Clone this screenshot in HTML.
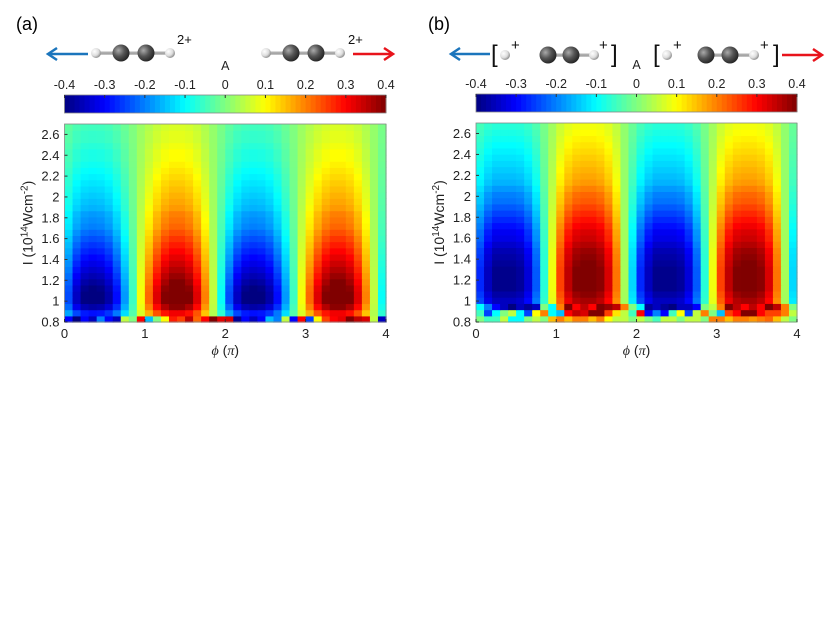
<!DOCTYPE html>
<html><head><meta charset="utf-8"><style>
body{margin:0;background:#fff;}
svg{display:block;font-family:"Liberation Sans",sans-serif;}
</style></head><body>
<svg id="fig" width="830" height="623" viewBox="0 0 830 623">
<defs>
<radialGradient id="gC" cx="0.35" cy="0.35" r="0.7"><stop offset="0" stop-color="#aaa"/><stop offset="0.5" stop-color="#555"/><stop offset="1" stop-color="#222"/></radialGradient>
<radialGradient id="gH" cx="0.35" cy="0.35" r="0.7"><stop offset="0" stop-color="#fff"/><stop offset="0.6" stop-color="#ddd"/><stop offset="1" stop-color="#888"/></radialGradient>
<linearGradient id="gB" x1="0" y1="0" x2="0" y2="1"><stop offset="0" stop-color="#eee"/><stop offset="0.5" stop-color="#999"/><stop offset="1" stop-color="#ccc"/></linearGradient>
</defs>
<text x="16" y="30" font-size="18">(a)</text>
<text x="428" y="30" font-size="18">(b)</text>
<g id="deco"></g>
<g id="pa"></g><g id="pb"></g>
</svg>
<script>
// ---- data ----
const phiTicks=[0,1,2,3,4];
const iTicks=[0.8,1,1.2,1.4,1.6,1.8,2,2.2,2.4,2.6];
const cbTicks=[-0.4,-0.3,-0.2,-0.1,0,0.1,0.2,0.3,0.4];
const cbLabels=["-0.4","-0.3","-0.2","-0.1","0","0.1","0.2","0.3","0.4"];
// column phase profile (40 columns over 0..4 pi)
const profileA=[-0.6,-0.85,-0.97,-1,-0.98,-0.9,-0.72,-0.45,-0.15,0.2,0.5,0.75,0.92,1,1,0.93,0.75,0.45,0.1,-0.25,
 -0.6,-0.85,-0.97,-1,-0.98,-0.9,-0.72,-0.45,-0.15,0.2,0.5,0.75,0.92,1,1,0.93,0.75,0.45,0.1,-0.25];
const ampA=[0.30,0.38,0.42,0.42,0.41,0.39,0.37,0.35,0.33,0.31,0.29,0.27,0.25,0.23,0.21,0.20,0.19,0.17,0.16,0.15,0.14,0.13,0.12,0.11,0.10,0.09,0.09,0.08,0.07,0.07,0.06];
const bottomA=[-0.3,-0.4,-0.3,-0.35,-0.2,-0.3,-0.35,0.05,0.0,0.3,-0.15,0.0,0.1,0.28,0.25,0.35,0.22,0.3,0.4,0.32,
 0.33,-0.38,-0.3,-0.35,-0.3,-0.15,-0.2,0.05,-0.3,0.3,-0.25,0.1,0.25,0.3,0.32,0.4,0.35,0.33,0.05,-0.35];
const profileB=[-0.7,-0.9,-1,-1,-1,-0.97,-0.85,-0.6,-0.2,0.2,0.6,0.85,0.97,1,1,0.95,0.8,0.5,0.05,-0.35,
 -0.7,-0.9,-1,-1,-1,-0.97,-0.85,-0.6,-0.2,0.2,0.6,0.85,0.97,1,1,0.95,0.8,0.5,0.05,-0.35];
const ampB=[0.36,0.38,0.40,0.40,0.40,0.40,0.39,0.38,0.37,0.35,0.33,0.32,0.30,0.28,0.26,0.24,0.22,0.21,0.19,0.17,0.16,0.15,0.14,0.13,0.12,0.11,0.10,0.09,0.08];
const bottomB1=[-0.1,-0.2,-0.3,-0.35,-0.4,-0.35,-0.38,-0.35,0.0,-0.1,0.2,0.45,0.3,0.35,0.3,0.42,0.38,0.35,0.2,0.0,
 -0.1,-0.38,-0.35,-0.38,-0.4,-0.35,-0.35,-0.3,0.0,0.05,0.2,0.45,0.35,0.3,0.35,0.3,0.45,0.35,0.2,0.0];
const bottomB2=[-0.05,-0.25,-0.1,0.0,0.05,-0.1,-0.25,0.1,0.2,-0.1,-0.15,0.3,0.35,0.33,0.4,0.4,0.25,0.12,0.05,-0.05,
 0.3,-0.3,-0.2,-0.3,-0.05,0.1,-0.25,0.05,0.2,0.0,-0.15,0.25,0.3,0.4,0.45,0.3,0.25,0.25,0.2,0.05];
const bottomB3=[0.0,-0.05,-0.05,0.05,-0.1,-0.1,0.0,0.05,0.0,0.15,0.2,0.15,0.2,0.2,0.15,0.2,0.1,0.05,0.05,0.0,
 0.05,0.0,-0.05,0.05,0.05,0.0,0.05,0.05,0.0,0.2,0.2,0.15,0.2,0.2,0.18,0.2,0.22,0.15,0.05,0.0];

function jet(v){
 let t=Math.max(0,Math.min(1,(v+0.4)/0.8));
 const r=Math.max(0,Math.min(1,1.5-Math.abs(4*t-3)));
 const g=Math.max(0,Math.min(1,1.5-Math.abs(4*t-2)));
 const b=Math.max(0,Math.min(1,1.5-Math.abs(4*t-1)));
 return `rgb(${Math.round(r*255)},${Math.round(g*255)},${Math.round(b*255)})`;
}
const NS="http://www.w3.org/2000/svg";
function mk(tag,attrs,parent){const e=document.createElementNS(NS,tag);for(const k in attrs)e.setAttribute(k,attrs[k]);parent.appendChild(e);return e;}

function panel(g,x0,x1,yT,yB,rows,cbY){
 const xs=p=>x0+(p/4)*(x1-x0);
 const ys=I=>yB-(I-0.8)/(2.7-0.8)*(yB-yT);
 const nC=40, nR=rows.length;
 const rowH=(yB-yT)/nR, colW=(x1-x0)/nC;
 rows.forEach((row,i)=>{
  row.forEach((v,j)=>{
   const r=mk('rect',{x:xs(j*4/nC),y:ys(0.8+(i+1)*1.9/nR),width:colW+0.6,height:rowH+0.6,fill:jet(v)},g);
   
   
  });
 });
 const fr=mk('rect',{x:x0,y:yT,width:x1-x0,height:yB-yT,fill:'none',stroke:'#888','stroke-width':0.8},g);
 
 
 phiTicks.forEach(p=>{
  mk('line',{x1:xs(p),x2:xs(p),y1:yB,y2:yB-3,stroke:'#333'},g);
  const t=mk('text',{x:xs(p),y:yB+16,'font-size':13,'text-anchor':'middle',fill:'#222'},g);
  t.textContent=p;
  
  
 });
 iTicks.forEach(I=>{
  mk('line',{x1:x0,x2:x0+3,y1:ys(I),y2:ys(I),stroke:'#333'},g);
  const t=mk('text',{x:x0-5,y:ys(I)+4.5,'font-size':13,'text-anchor':'end',fill:'#222'},g);
  t.textContent=String(I);
  
  
 });
 const xl=mk('text',{x:(x0+x1)/2,y:yB+33,'font-size':14,'text-anchor':'middle',fill:'#222'},g);
 xl.innerHTML='<tspan font-style="italic" font-family="Liberation Serif">ϕ</tspan> (<tspan font-style="italic" font-family="Liberation Serif">π</tspan>)';
 
 
 const yl=mk('text',{x:0,y:0,'font-size':14,'text-anchor':'middle',fill:'#222',transform:`translate(${x0-32},${(yT+yB)/2}) rotate(-90)`},g);
 yl.innerHTML='I (10<tspan dy="-5" font-size="10">14</tspan><tspan dy="5">Wcm</tspan><tspan dy="-5" font-size="10">-2</tspan><tspan dy="5">)</tspan>';
 
 
 const cbH=18;
 for(let k=0;k<64;k++){
  const v=-0.4+0.8*(k+0.5)/64;
  const r=mk('rect',{x:x0+k*(x1-x0)/64,y:cbY,width:(x1-x0)/64+0.5,height:cbH,fill:jet(v)},g);
  
  
 }
 mk('rect',{x:x0,y:cbY,width:x1-x0,height:cbH,fill:'none',stroke:'#888','stroke-width':0.8},g);
 cbTicks.forEach((v,i)=>{
  const x=x0+(v+0.4)/0.8*(x1-x0);
  mk('line',{x1:x,x2:x,y1:cbY,y2:cbY+3,stroke:'#333'},g);
  const t=mk('text',{x:x,y:cbY-6,'font-size':12.5,'text-anchor':'middle',fill:'#222'},g);
  t.textContent=cbLabels[i];
  
  
 });
 const a=mk('text',{x:(x0+x1)/2,y:cbY-25,'font-size':12.5,'text-anchor':'middle',fill:'#222'},g);
 a.textContent='A';
 
 
}
const rowsA=[bottomA].concat(ampA.map(a=>profileA.map(p=>a*p+0.01)));
const rowsB=[bottomB3,bottomB2,bottomB1].concat(ampB.map(a=>profileB.map(p=>a*p+0.01)));
panel(document.getElementById('pa'),64.5,386,124,322,rowsA,95);
panel(document.getElementById('pb'),476,797,123,322,rowsB,94);

const d=document.getElementById('deco');
function arrow(x1,x2,y,col,name){
 const g=mk('g',{},d);
 
 
 mk('line',{x1:x1,x2:x2,y1:y,y2:y,stroke:col,'stroke-width':2.5},g);
 const tip=x2, dir=x2>x1?1:-1;
 mk('polyline',{points:`${tip-dir*9},${y-6} ${tip},${y} ${tip-dir*9},${y+6}`,fill:'none',stroke:col,'stroke-width':2.5},g);
}
function atom(x,y,r,grad){mk('circle',{cx:x,cy:y,r:r,fill:`url(#${grad})`},d);}
function bond(x1,x2,y,w){mk('rect',{x:x1,y:y-w/2,width:x2-x1,height:w,fill:'url(#gB)'},d);}
function mol(xs,y){bond(xs[0],xs[3],y,4);atom(xs[0],y,5,'gH');atom(xs[1],y,8.5,'gC');atom(xs[2],y,8.5,'gC');atom(xs[3],y,5,'gH');}
function txt(x,y,s,size,name){const t=mk('text',{x:x,y:y,'font-size':size,fill:'#111'},d);t.textContent=s;}
arrow(88,48,54,'#1b75bc','left-arrow-a');
mol([96,121,146,170],53);
txt(177,44,'2+',13,'charge-label');
mol([266,291,316,340],53);
txt(348,44,'2+',13,'charge-label');
arrow(353,393,54,'#e8131b','right-arrow-a');
arrow(490,451,54,'#1b75bc','left-arrow-b');
txt(491,62,'[',24,'bracket');
atom(505,55,5,'gH');
txt(511,50,'+',15,'charge-label');
bond(548,594,55,4);atom(548,55,8.5,'gC');atom(571,55,8.5,'gC');atom(594,55,5,'gH');
txt(599,50,'+',15,'charge-label');
txt(611,62,']',24,'bracket');
txt(653,62,'[',24,'bracket');
atom(667,55,5,'gH');
txt(673,50,'+',15,'charge-label');
bond(706,754,55,4);atom(706,55,8.5,'gC');atom(730,55,8.5,'gC');atom(754,55,5,'gH');
txt(760,50,'+',15,'charge-label');
txt(773,62,']',24,'bracket');
arrow(782,822,55,'#e8131b','right-arrow-b');
</script>
</body></html>
